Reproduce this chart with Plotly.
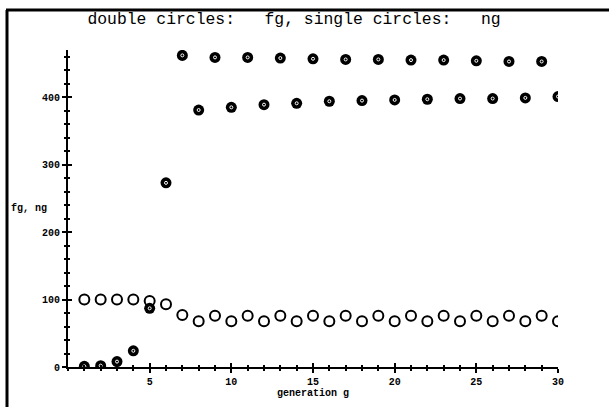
import plotly.graph_objects as go

# ---- data ----
generations = list(range(1, 31))
fg_values = [1, 2, 8, 24, 87, 273, 462, 381, 459, 385, 459, 389, 458, 391, 457,
             394, 456, 395, 456, 396, 455, 397, 455, 398, 454, 398, 453, 399, 453, 401]
ng_values = [100, 100, 100, 100, 98, 93, 77, 68, 76, 68, 76, 68, 76, 68, 76,
             68, 76, 68, 76, 68, 76, 68, 76, 68, 76, 68, 76, 68, 76, 68]
x_tick_vals = [5, 10, 15, 20, 25, 30]
x_tick_text = ["5", "10", "15", "20", "25", "30"]
y_tick_vals = [0, 100, 200, 300, 400]
y_tick_text = ["0", "100", "200", "300", "400"]

title_text = "double circles:   fg, single circles:   ng"
x_title = "generation g"
y_title = "fg, ng"

# ---- layout geometry (pixels) ----
W, H = 609, 407
L, R, T, B = 68, 51, 50, 40
PW, PH = W - L - R, H - T - B

def px_x(p):
    return (p - L) / PW

def px_y(p):
    return (H - B - p) / PH

MONO = "Liberation Mono"

fig = go.Figure()

fig.add_trace(go.Scatter(
    x=generations, y=ng_values, mode="markers", name="ng",
    marker=dict(symbol="circle-open", size=10, color="black",
                line=dict(color="black", width=2)),
    showlegend=False))

fig.add_trace(go.Scatter(
    x=generations, y=fg_values, mode="markers", name="fg",
    marker=dict(symbol="circle", size=11, color="black",
                line=dict(color="black", width=0)),
    showlegend=False))

fig.add_trace(go.Scatter(
    x=generations, y=fg_values, mode="markers", name="fg inner",
    marker=dict(symbol="circle-open", size=3, color="white",
                line=dict(color="white", width=1)),
    showlegend=False, hoverinfo="skip"))

tickfont = dict(family=MONO, size=10, color="black", weight="bold")

common_x = dict(range=[0, 30], showgrid=False, zeroline=False)
common_y = dict(range=[0, 470], showgrid=False, zeroline=False)

fig.update_layout(
    width=W, height=H,
    margin=dict(l=L, r=R, t=T, b=B),
    paper_bgcolor="white", plot_bgcolor="white",
    title=dict(text=title_text, font=dict(family=MONO, size=16.4, color="black"),
               xref="container", x=294 / W, xanchor="center",
               yref="container", y=1 - 18 / H, yanchor="middle"),
    xaxis=dict(**common_x, showline=True, linecolor="black", linewidth=2,
               tickmode="array", tickvals=x_tick_vals, ticktext=x_tick_text,
               ticks="outside", ticklen=4, tickwidth=2, tickcolor="black",
               tickfont=tickfont,
               minor=dict(tickmode="linear", tick0=0, dtick=1, ticks="outside",
                          ticklen=2, tickwidth=2, tickcolor="black", showgrid=False),
               title=dict(text=x_title, font=dict(family=MONO, size=10, color="black",
                                                   weight="bold"), standoff=0)),
    xaxis2=dict(**common_x, overlaying="x", anchor="y", side="bottom",
                showline=False, showticklabels=False,
                tickmode="array", tickvals=x_tick_vals,
                ticks="inside", ticklen=4, tickwidth=2, tickcolor="black",
                minor=dict(tickmode="linear", tick0=0, dtick=1, ticks="inside",
                           ticklen=2, tickwidth=2, tickcolor="black", showgrid=False)),
    yaxis=dict(**common_y, showline=True, linecolor="black", linewidth=2,
               tickmode="array", tickvals=y_tick_vals, ticktext=y_tick_text,
               ticks="outside", ticklen=4, tickwidth=2, tickcolor="black",
               tickfont=tickfont,
               minor=dict(tickmode="linear", tick0=0, dtick=20, ticks="outside",
                          ticklen=2, tickwidth=2, tickcolor="black", showgrid=False)),
    yaxis2=dict(**common_y, overlaying="y", anchor="x", side="left",
                showline=False, showticklabels=False,
                tickmode="array", tickvals=y_tick_vals,
                ticks="inside", ticklen=4, tickwidth=2, tickcolor="black",
                minor=dict(tickmode="linear", tick0=0, dtick=20, ticks="inside",
                           ticklen=2, tickwidth=2, tickcolor="black", showgrid=False)),
    annotations=[dict(text=y_title, xref="paper", yref="paper",
                      x=px_x(9), y=px_y(208), xanchor="left", yanchor="middle",
                      showarrow=False,
                      font=dict(family=MONO, size=10, color="black", weight="bold"))],
    shapes=[
        dict(type="line", xref="paper", yref="paper",
             x0=px_x(7), x1=px_x(7), y0=px_y(10), y1=px_y(H),
             line=dict(color="black", width=3)),
        dict(type="line", xref="paper", yref="paper",
             x0=px_x(6), x1=px_x(W), y0=px_y(10), y1=px_y(10),
             line=dict(color="black", width=3)),
    ],
)

# invisible trace so the overlay axes are drawn
fig.add_trace(go.Scatter(x=[None], y=[None], xaxis="x2", yaxis="y2",
                         showlegend=False, hoverinfo="skip"))

fig.write_html("out.html")
